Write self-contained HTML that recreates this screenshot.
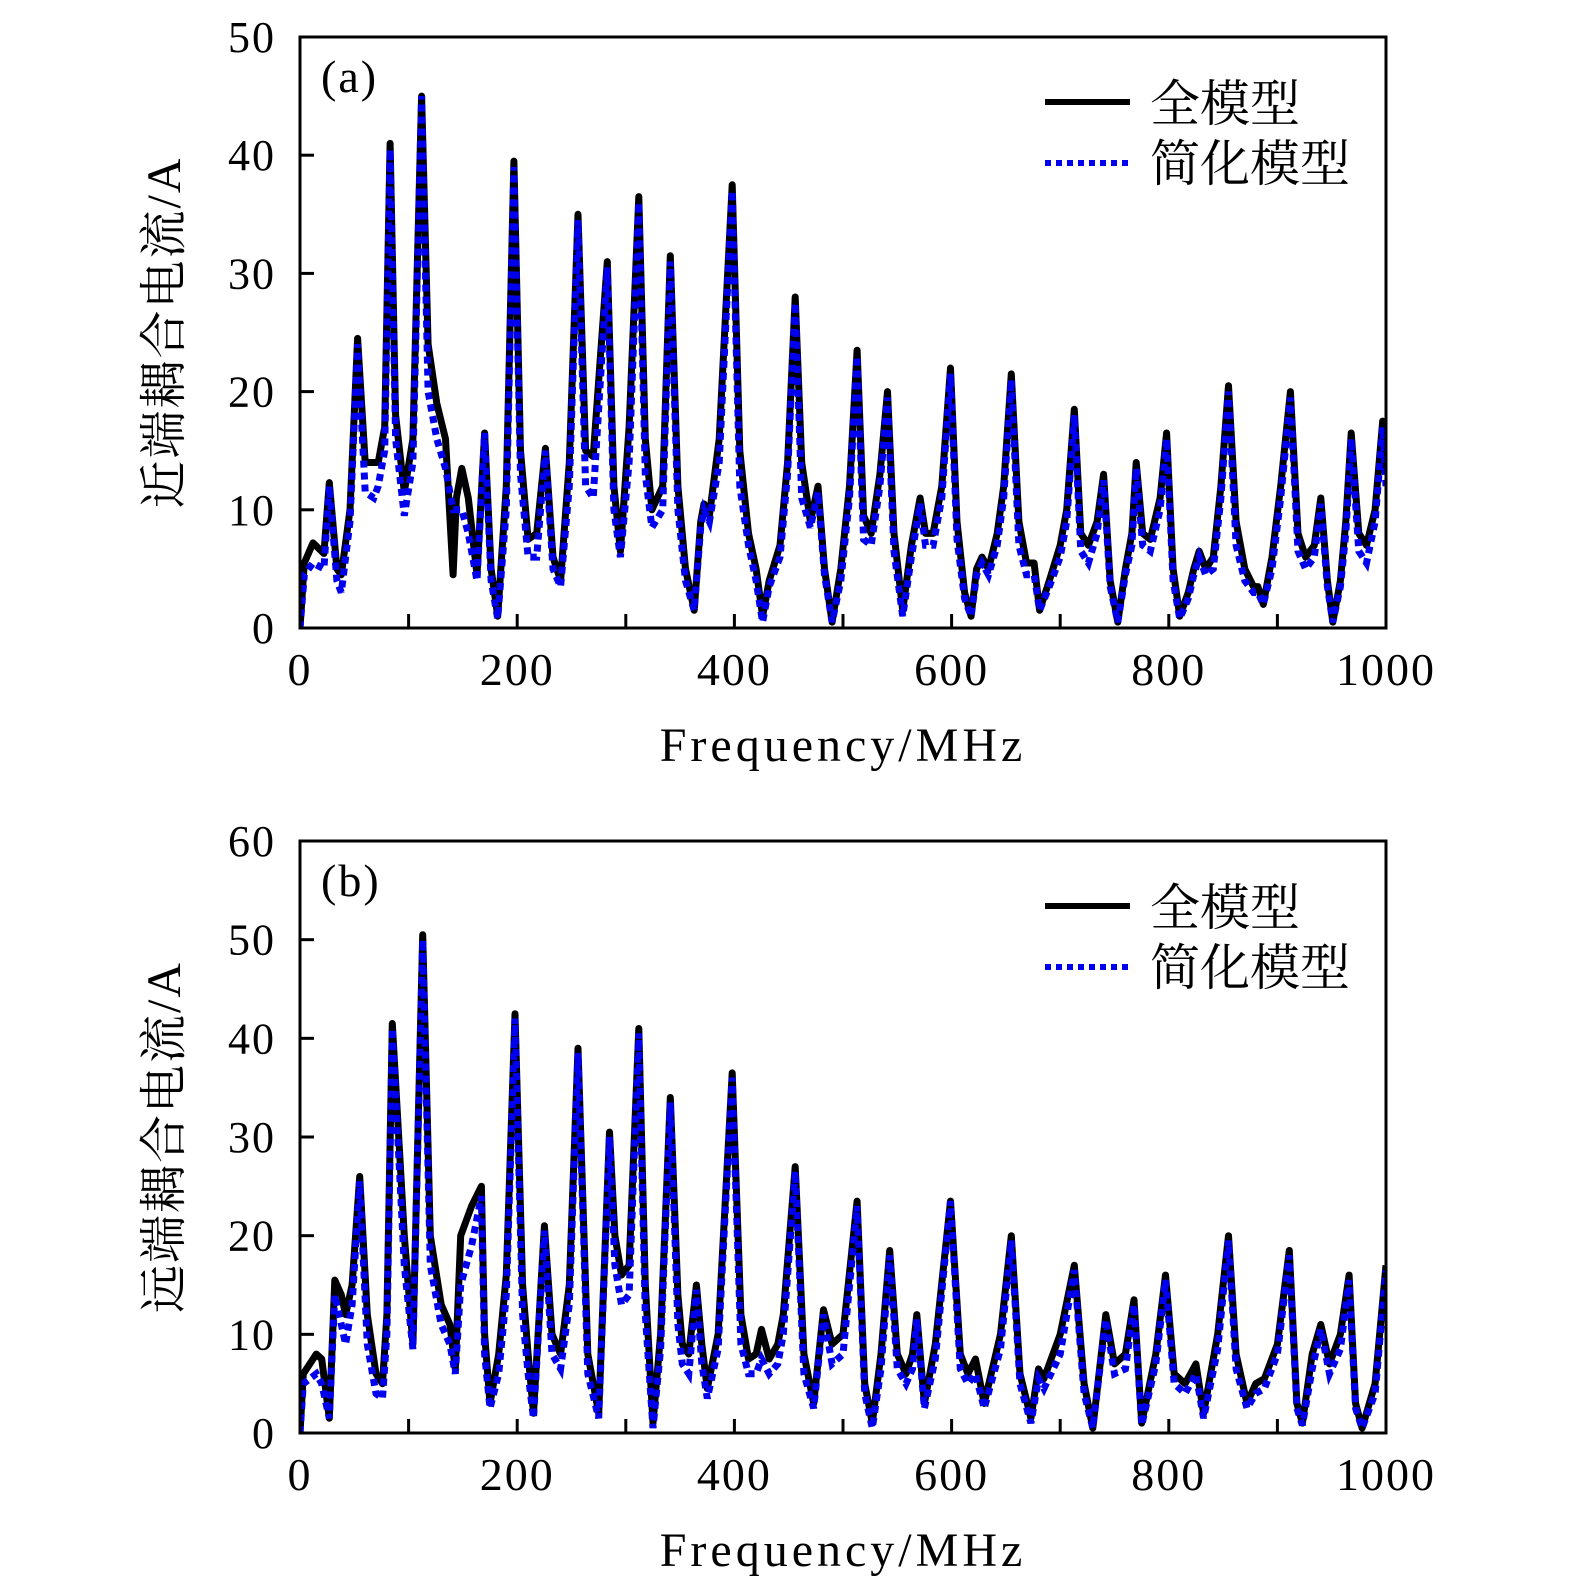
<!DOCTYPE html>
<html><head><meta charset="utf-8"><style>
html,body{margin:0;padding:0;background:#fff;}
svg text{font-family:"Liberation Serif","Noto Serif CJK SC",serif;fill:#000;}
.cjk{font-family:"Liberation Serif","Noto Serif CJK SC","Noto Sans CJK SC",serif;}
</style></head><body>
<svg id="chart" width="1575" height="1585" viewBox="0 0 1575 1585" xmlns="http://www.w3.org/2000/svg"></svg>
<script>
const xTicks=[0,200,400,600,800,1000];
const yTicksA=[0,10,20,30,40,50];
const yTicksB=[0,10,20,30,40,50,60];
const fullA=[[0,0],[4,5.5],[12,7.2],[22,6.3],[27,12.3],[34,5],[38,4.5],[46,10],[53,24.5],[60,14],[72,14],[78,17],[83,41],[88,18],[96,11.5],[104,16],[112,45],[118,24],[126,19],[134,16],[141,4.5],[144,11],[149,13.5],[155,11],[163,4.5],[170,16.5],[176,5],[182,1],[190,12],[197,39.5],[203,15],[210,7.5],[218,8],[226,15.2],[233,6],[240,4],[248,14],[256,35],[263,15],[270,14.5],[283,31],[289,12],[295,6.5],[303,17],[312,36.5],[318,16],[324,10],[334,12],[341,31.5],[348,12],[355,5],[363,1.5],[369,9],[372,10.5],[377,9.5],[386,16],[398,37.5],[405,15],[413,8],[420,5],[426,1],[432,4],[442,7],[449,14],[456,28],[462,14],[470,9],[477,12],[483,5],[490,0.5],[498,5],[506,12],[513,23.5],[519,9.5],[526,8],[534,13],[541,20],[547,8],[555,1.5],[563,7],[571,11],[576,8],[583,8],[591,12],[599,22],[605,9],[612,3],[618,1],[623,5],[628,6],[634,5],[642,8],[648,12],[655,21.5],[662,9],[669,5.5],[676,5.5],[681,1.5],[690,4],[700,7],[706,10],[713,18.5],[719,8],[726,7],[734,9],[740,13],[746,4],[753,0.5],[760,5],[766,8],[770,14],[776,8],[783,7.5],[792,11],[798,16.5],[804,5],[810,1],[818,3],[823,5],[828,6.5],[834,5],[841,6],[848,12],[855,20.5],[862,9],[870,5],[878,3.5],[882,3.5],[887,2],[895,6],[903,12],[912,20],[919,8],[926,6],[934,7],[940,11],[946,4],[951,0.5],[958,4],[963,9],[968,16.5],[975,8],[982,7],[990,10],[997,17.5],[1000,13]];
const simpA=[[0,0],[4,4.5],[12,5.5],[22,5],[27,12],[34,4],[38,3],[46,9],[53,24],[60,11.5],[68,11],[72,12],[78,15],[83,40.5],[88,16],[96,9.5],[104,14],[112,45],[118,20],[126,16],[134,13.5],[141,10],[144,10],[149,10],[155,8],[163,4],[170,16.5],[176,4],[182,0.8],[190,10],[197,39],[203,13],[210,6],[218,6],[226,15],[233,5],[240,3.5],[248,12],[256,34.5],[263,12],[270,11],[283,30.5],[289,10],[295,6],[303,14],[312,36],[318,13],[324,8.5],[334,10],[341,31],[348,10],[355,4],[363,1.5],[369,8.5],[372,10],[377,9],[386,14],[398,37],[405,12],[413,7],[420,4],[426,0.5],[432,3.5],[442,6],[449,13],[456,27.5],[462,11],[470,8.5],[477,11.5],[483,4.5],[490,0.5],[498,4],[506,11],[513,23],[519,7.5],[526,7],[534,12],[541,19.5],[547,6.5],[555,1],[563,6],[571,10.5],[576,7],[583,7],[591,11],[599,21.5],[605,7.5],[612,2.5],[618,1],[623,4.5],[628,5.5],[634,4.5],[642,7],[648,11],[655,21],[662,7],[669,4.5],[676,4.5],[681,1.5],[690,3.5],[700,6],[706,9],[713,18],[719,6.5],[726,5.5],[734,8],[740,12.5],[746,3.5],[753,0.5],[760,4.5],[766,7],[770,13.5],[776,7],[783,6.5],[792,10],[798,16],[804,4],[810,0.8],[818,2.5],[823,4.5],[828,6],[834,4.5],[841,5],[848,11],[855,20],[862,7],[870,4],[878,3],[882,3],[887,2],[895,5],[903,11],[912,19.5],[919,6.5],[926,5],[934,6],[940,10.5],[946,3.5],[951,0.5],[958,3.5],[963,8],[968,16],[975,6.5],[982,5.5],[990,9],[997,17],[1000,12]];
const fullB=[[0,0],[3,6],[15,8],[20,7.5],[27,1.5],[32,15.5],[38,14],[42,12],[48,15],[55,26],[62,12],[70,6],[76,5],[80,12],[85,41.5],[96,20],[104,9],[113,50.5],[120,20],[130,13],[138,11],[143,6.5],[148,20],[158,23],[167,25],[170,10],[175,3],[183,8],[190,16],[198,42.5],[205,15],[210,8],[215,2],[225,21],[232,10],[240,8],[248,15],[256,39],[265,8],[275,2],[285,30.5],[290,20],[296,16],[303,17],[312,41],[318,15],[325,1],[332,10],[341,34],[348,14],[352,9],[358,8],[365,15],[370,9],[375,4.5],[385,10],[398,36.5],[406,12],[413,7.5],[420,8],[425,10.5],[432,7.5],[440,9],[445,12],[456,27],[464,8],[473,3],[482,12.5],[490,9],[500,10],[513,23.5],[520,5],[527,1],[535,8],[543,18.5],[550,8],[558,6],[564,8],[568,12],[575,3],[585,9],[599,23.5],[608,8],[615,6],[622,7.5],[630,3],[645,10],[655,20],[663,6],[673,1.5],[680,6.5],[685,5.5],[700,10],[713,17],[722,5],[730,0.5],[742,12],[750,7],[760,8],[768,13.5],[775,1],[788,8],[797,16],[805,6],[815,5],[825,7],[832,2],[845,10],[855,20],[862,8],[872,3],[880,5],[888,5.5],[900,9],[911,18.5],[918,3],[923,1],[932,8],[940,11],[948,7],[958,10],[966,16],[972,3],[978,0.5],[990,5],[1000,17]];
const simpB=[[0,0],[3,5],[15,6],[20,5],[27,1.5],[32,14],[38,11],[42,9],[48,13],[55,25.5],[62,9],[70,4],[76,3.5],[80,10],[85,41],[96,17],[104,8.5],[113,50],[120,17],[130,11],[138,9],[143,6],[148,15],[158,19],[167,24],[170,8],[175,2.5],[183,6],[190,14],[198,42],[205,12],[210,6],[215,1.5],[225,20.5],[232,8],[240,6.5],[248,13],[256,38.5],[265,6],[275,1.5],[285,30],[290,17],[296,13],[303,14],[312,40.5],[318,12],[325,0.5],[332,8.5],[341,33.5],[348,11],[352,7],[358,6],[365,14.5],[370,7],[375,3.5],[385,8.5],[398,36],[406,9],[413,6],[420,6],[425,7.5],[432,6],[440,7],[445,10],[456,26.5],[464,6],[473,2.5],[482,12],[490,7],[500,8],[513,23],[520,4],[527,0.5],[535,6.5],[543,18],[550,6.5],[558,5],[564,6.5],[568,11.5],[575,2.5],[585,7.5],[599,23.5],[608,6.5],[615,5],[622,6],[630,2.5],[645,8.5],[655,19.5],[663,5],[673,1],[680,5.5],[685,4.5],[700,8],[713,16.5],[722,4],[730,0.5],[742,11.5],[750,6],[760,6.5],[768,13],[775,0.8],[788,7],[797,15.5],[805,5],[815,4],[825,6],[832,1.5],[845,8.5],[855,19.5],[862,6.5],[872,2.5],[880,4],[888,4.5],[900,8],[911,18],[918,2.5],[923,0.8],[932,6.5],[940,10.5],[948,6],[958,8.5],[966,15.5],[972,2.5],[978,0.5],[990,4],[1000,16.5]];

const NS='http://www.w3.org/2000/svg';
const svg=document.getElementById('chart');
function mk(tag,attrs,parent){const e=document.createElementNS(NS,tag);for(const k in attrs)e.setAttribute(k,attrs[k]);(parent||svg).appendChild(e);return e;}
const X0=300,X1=1386;
function xs(f){return X0+(f-0)/1000*(X1-X0);}

function panel(id,top,bottom,ymax,yticks,fullData,simpData,letter,ytitle){
  const g=mk('g',{});
  
  
  const ys=v=>bottom-v/ymax*(bottom-top);
  const clip=mk('clipPath',{id:'clip'+id},g);
  mk('rect',{x:X0,y:top,width:X1-X0,height:bottom-top},clip);
  for(let f=100;f<1000;f+=100){
    const t=mk('line',{x1:xs(f),x2:xs(f),y1:bottom,y2:bottom-14,stroke:'#000','stroke-width':3},g);
    
    
  }
  yticks.forEach(v=>{
    if(v>0&&v<ymax){const t=mk('line',{x1:X0,x2:X0+14,y1:ys(v),y2:ys(v),stroke:'#000','stroke-width':3},g);
    
    }
    const l=mk('text',{x:276,y:ys(v)+15,'text-anchor':'end','font-size':44,'letter-spacing':2},g);
    l.textContent=v;
    
    
  });
  xTicks.forEach(f=>{
    const l=mk('text',{x:xs(f),y:bottom+57,'text-anchor':'middle','font-size':46,'letter-spacing':2},g);
    l.textContent=f;
    
    
  });
  const toPts=d=>d.map(p=>xs(p[0]).toFixed(1)+','+ys(p[1]).toFixed(1)).join(' ');
  const lf=mk('polyline',{points:toPts(fullData),fill:'none',stroke:'#000','stroke-width':7,'stroke-linejoin':'round','clip-path':'url(#clip'+id+')'},g);
  
  
  const ls=mk('polyline',{points:toPts(simpData),fill:'none',stroke:'#0000ee','stroke-width':7,'stroke-dasharray':'7,5','clip-path':'url(#clip'+id+')'},g);
  
  
  const box=mk('rect',{x:X0,y:top,width:X1-X0,height:bottom-top,fill:'none',stroke:'#000','stroke-width':3},g);
  
  
  const pl=mk('text',{x:321,y:top+55,'font-size':46,'letter-spacing':2},g);
  pl.textContent=letter;
  
  
  const l1=mk('line',{x1:1045,x2:1130,y1:top+65,y2:top+65,stroke:'#000','stroke-width':6},g);
  
  
  const t1=mk('text',{x:1150,y:top+84,'font-size':50,class:'cjk'},g);
  t1.textContent='全模型';
  
  
  const l2=mk('line',{x1:1045,x2:1130,y1:top+126,y2:top+126,stroke:'#0000ee','stroke-width':6,'stroke-dasharray':'6,5'},g);
  
  
  const t2=mk('text',{x:1150,y:top+144,'font-size':50,class:'cjk'},g);
  t2.textContent='简化模型';
  
  
  const xt=mk('text',{x:843,y:bottom+133,'text-anchor':'middle','font-size':48,'letter-spacing':4},g);
  xt.textContent='Frequency/MHz';
  
  
  const cy=(top+bottom)/2;
  const yt=mk('text',{x:0,y:0,'text-anchor':'middle','font-size':48,'letter-spacing':2,class:'cjk',transform:'translate(180,'+cy+') rotate(-90)'},g);
  yt.textContent=ytitle;
  
  
}
panel('a',37,628,50,yTicksA,fullA,simpA,'(a)','近端耦合电流/A');
panel('b',841,1433,60,yTicksB,fullB,simpB,'(b)','远端耦合电流/A');
</script>
</body></html>
